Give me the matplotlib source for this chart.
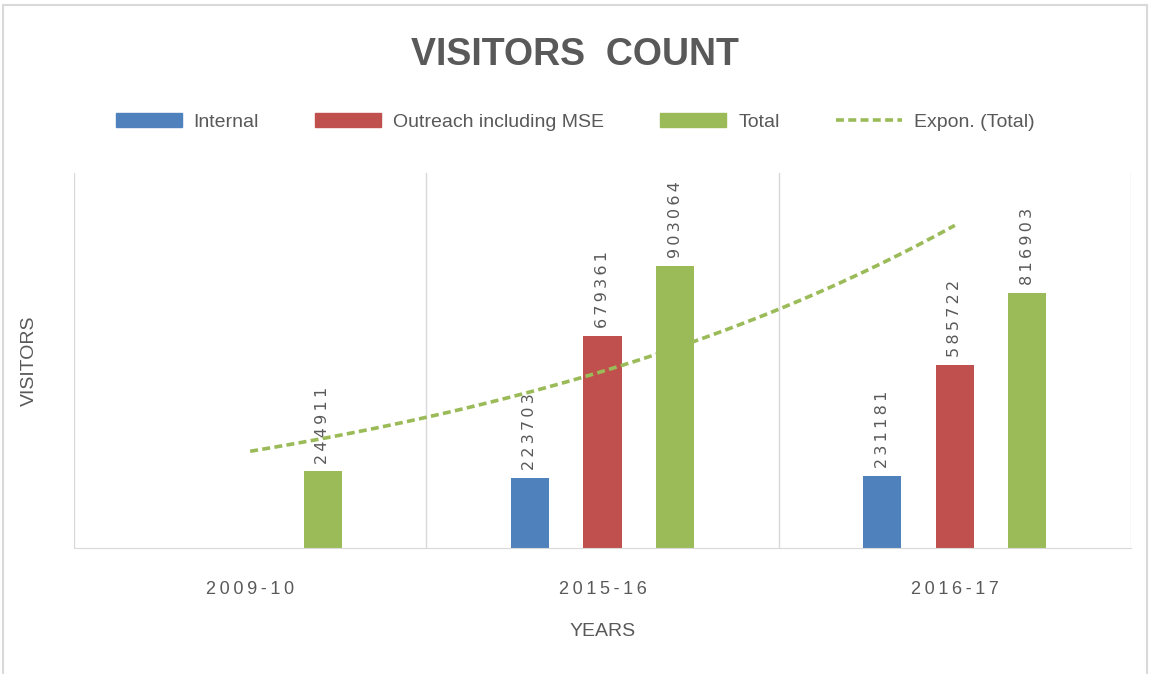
import numpy as np
import matplotlib
matplotlib.use("Agg")
import matplotlib.pyplot as plt
from matplotlib.patches import Rectangle, Patch
from matplotlib.lines import Line2D

# chart data
years = ["2009-10", "2015-16", "2016-17"]
internal = [np.nan, 223703, 231181]
outreach = [np.nan, 679361, 585722]
total = [244911, 903064, 816903]

blue = "#4F81BD"
red = "#C0504D"
green = "#9BBB59"
grey_txt = "#595959"
grid_col = "#D9D9D9"

plt.rcParams['font.family'] = ['Liberation Sans', 'DejaVu Sans']

fig = plt.figure(figsize=(11.5, 6.74), dpi=100)
ax = fig.add_axes([74 / 1150, 126 / 674, (1131 - 74) / 1150, (548 - 173) / 674])

x = np.arange(1, len(years) + 1)
w = 0.108
off = 0.206

series = [(internal, blue, "Internal", -off),
          (outreach, red, "Outreach including MSE", 0),
          (total, green, "Total", off)]

for vals, col, name, dx in series:
    ax.bar(x + dx, vals, width=w, color=col, label=name, zorder=2)
    for xi, v in zip(x, vals):
        if np.isnan(v):
            continue
        ax.text(xi + dx, v + 25000, "\u2009".join(str(int(v))), rotation=90,
                ha="center", va="bottom", fontsize=11.5, color=grey_txt,
                family="DejaVu Sans")

# exponential trendline fitted to Total (Excel style)
b, a = np.polyfit(x, np.log(total), 1)
xt = np.linspace(1, 3, 100)
ax.plot(xt, np.exp(a + b * xt), linestyle=(0, (2.2, 1.2)), color=green,
        linewidth=2.6, zorder=3)

ax.set_xlim(0.5, 3.5)
ax.set_ylim(0, 1.2e6)
ax.set_yticks([])
ax.set_xticks(x)
ax.set_xticklabels(["\u2009".join(y) for y in years], fontsize=13, color=grey_txt)
ax.tick_params(axis="x", length=0, pad=24)
for xb in [0.5, 1.5, 2.5, 3.5]:
    ax.axvline(xb, color=grid_col, linewidth=1, zorder=1)
for s in ["top", "left", "right"]:
    ax.spines[s].set_visible(False)
ax.spines["bottom"].set_color(grid_col)

ax.set_xlabel("YEARS", fontsize=14, color=grey_txt, labelpad=18)
ax.set_ylabel("VISITORS", fontsize=14, color=grey_txt, labelpad=26)

fig.text(0.5, 1 - 55 / 674, "VISITORS  COUNT", ha="center", va="center",
         fontsize=27, fontweight="bold", color=grey_txt)

handles = [Patch(color=blue), Patch(color=red), Patch(color=green),
           Line2D([0], [0], color=green, linestyle=(0, (2.2, 1.2)), linewidth=2.6)]
labels = ["Internal", "Outreach including MSE", "Total", "Expon. (Total)"]
fig.legend(handles, labels, loc="center", bbox_to_anchor=(0.5, 1 - 122 / 674),
           ncol=4, frameon=False, fontsize=14, handlelength=3.4, handleheight=0.75,
           columnspacing=2.9, handletextpad=0.6, labelcolor=grey_txt)

# outer chart border
fig.add_artist(Rectangle((3 / 1150, -0.01), 1 - 6 / 1150, 1 - 5 / 674 + 0.01,
                         transform=fig.transFigure, fill=False,
                         edgecolor=grid_col, linewidth=1.5))

fig.savefig("out.png", dpi=100)
